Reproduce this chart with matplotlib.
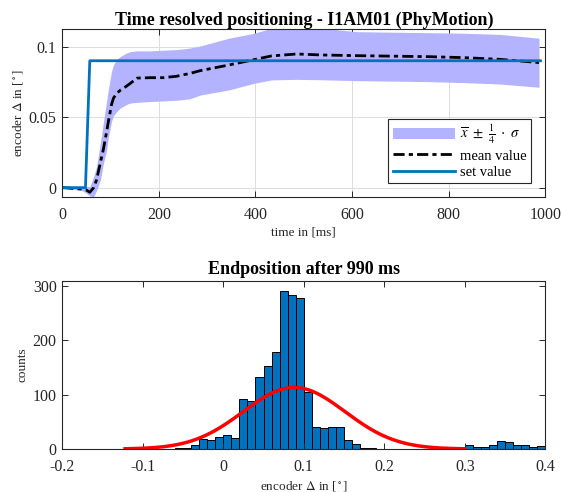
#!/usr/bin/env python3

import numpy as np
import matplotlib as mpl
mpl.use('Agg')
from matplotlib import pyplot as plt
from matplotlib.patches import Patch
from matplotlib.lines import Line2D

# time resolved positioning
t_ms = [0, 40, 50, 57, 65, 71, 79, 85, 92, 95, 102, 106, 113, 120, 133, 141, 155, 182,
        209, 237, 264, 286, 345, 397, 433, 485, 537, 611, 758, 832, 906, 987]
mean_val = [0, -0.001, -0.0017, -0.0033, 0.0, 0.0055, 0.018, 0.027, 0.040, 0.046, 0.059,
            0.0635, 0.067, 0.069, 0.072, 0.074, 0.0777, 0.078, 0.078, 0.079, 0.081, 0.083,
            0.087, 0.0908, 0.0934, 0.0948, 0.0941, 0.0936, 0.0929, 0.0922, 0.0910, 0.0887]
upper_val = [0, 0.0005, 0.001, 0.0007, 0.008, 0.015, 0.032, 0.046, 0.062, 0.069, 0.0825,
             0.087, 0.091, 0.093, 0.0955, 0.0965, 0.097, 0.097, 0.0975, 0.0979, 0.099, 0.1005,
             0.106, 0.1095, 0.113, 0.1135, 0.113, 0.1106, 0.1099, 0.1095, 0.1087, 0.106]
lower_val = [0, -0.002, -0.004, -0.006, -0.0064, -0.002, 0.0055, 0.017, 0.027, 0.035, 0.047,
             0.051, 0.054, 0.0564, 0.059, 0.060, 0.0605, 0.0611, 0.0615, 0.062, 0.063, 0.0657,
             0.0693, 0.074, 0.0764, 0.0768, 0.0765, 0.0759, 0.0752, 0.0745, 0.0735, 0.0712]
t_set = [0, 48, 57, 990]
set_val = [0, 0, 0.09, 0.09]

# endposition histogram, bins of 0.01
bin_left = [round(-0.06 + 0.01 * i, 2) for i in range(46)]
counts = [1, 2, 8, 18, 16, 22, 26, 21, 91, 89, 132, 153, 179, 290, 282, 277, 105, 40, 38, 41,
          40, 16, 10, 2, 1, 0, 0, 0, 0, 0, 0, 0, 0, 0, 0, 2, 8, 4, 4, 7, 14, 12, 8, 8, 3, 5]
fit_mu = 0.088
fit_sigma = 0.0633
fit_peak = 113
fit_range = (-0.122, 0.30)

BLUE = '#0072bd'
BAND = '#b3b3ff'
AX_COL = '#262626'
DASHDOT = (0, (4, 1.5, 1.5, 1.5))

plt.rcParams['font.family'] = ['Liberation Serif', 'DejaVu Serif']
plt.rcParams['mathtext.fontset'] = 'stix'


def style_axes(ax):
    for s in ax.spines.values():
        s.set_color(AX_COL)
        s.set_linewidth(0.8)
    ax.tick_params(direction='in', top=True, right=True, labelsize=11.5,
                   colors=AX_COL, length=4, width=0.7)
    ax.tick_params(axis='x', pad=7)
    ax.tick_params(axis='y', pad=4)


def plot_time(ax):
    ax.fill_between(t_ms, lower_val, upper_val, color=BAND, lw=0)
    ax.plot(t_ms, mean_val, color='black', ls=DASHDOT, lw=2)
    ax.plot(t_set, set_val, color=BLUE, lw=2)
    ax.set_xlim(0, 1000)
    ax.set_ylim(-0.0065, 0.1125)
    ax.set_xticks([0, 200, 400, 600, 800, 1000])
    ax.set_yticks([0, 0.05, 0.1])
    ax.set_yticklabels(['0', '0.05', '0.1'])
    ax.grid(True, color='#dcdcdc', lw=0.7)
    ax.set_axisbelow(True)
    style_axes(ax)
    ax.set_title('Time resolved positioning - I1AM01 (PhyMotion)', fontsize=13,
                 fontweight='bold', pad=3)
    ax.set_xlabel('time in [ms]', fontsize=9.5, color=AX_COL, labelpad=3)
    ax.set_ylabel(r'encoder $\Delta$ in [$^\circ$]', fontsize=9.5, color=AX_COL, labelpad=3)

    handles = [Patch(facecolor=BAND, edgecolor='none'),
               Line2D([], [], color='black', ls=DASHDOT, lw=2),
               Line2D([], [], color=BLUE, lw=2)]
    labels = [r'$\overline{x}\ \pm\ \frac{1}{4}\ \cdot\ \sigma$', 'mean value', 'set value']
    leg = ax.legend(handles, labels, loc='lower right', bbox_to_anchor=(0.97, 0.082),
                    fontsize=10.5, fancybox=False, framealpha=1, edgecolor=AX_COL,
                    handlelength=4.3, handletextpad=0.3, borderpad=0.3, labelspacing=0.2,
                    borderaxespad=0)
    leg.get_frame().set_linewidth(0.8)


def plot_hist(ax):
    ax.bar(bin_left, counts, width=0.01, align='edge', color=BLUE, edgecolor='black', lw=0.7)
    xs = np.linspace(fit_range[0], fit_range[1], 300)
    ax.plot(xs, fit_peak * np.exp(-0.5 * ((xs - fit_mu) / fit_sigma) ** 2), color='red', lw=2.5)
    ax.set_xlim(-0.2, 0.4)
    ax.set_ylim(0, 309)
    ax.set_xticks([-0.2, -0.1, 0, 0.1, 0.2, 0.3, 0.4])
    ax.set_xticklabels(['-0.2', '-0.1', '0', '0.1', '0.2', '0.3', '0.4'])
    ax.set_yticks([0, 100, 200, 300])
    style_axes(ax)
    ax.set_title('Endposition after 990 ms', fontsize=13, fontweight='bold', pad=5)
    ax.set_xlabel(r'encoder $\Delta$ in [$^\circ$]', fontsize=9.5, color=AX_COL, labelpad=3)
    ax.set_ylabel('counts', fontsize=9.5, color=AX_COL, labelpad=3)


def main():
    fig = plt.figure(figsize=(5.61, 4.92), dpi=100)
    ax1 = fig.add_axes([0.111, 0.600, 0.861, 0.341])
    ax2 = fig.add_axes([0.111, 0.0874, 0.861, 0.342])
    plot_time(ax1)
    plot_hist(ax2)
    fig.savefig('out.png', dpi=100)
    plt.close(fig)


if __name__ == '__main__':
    main()
